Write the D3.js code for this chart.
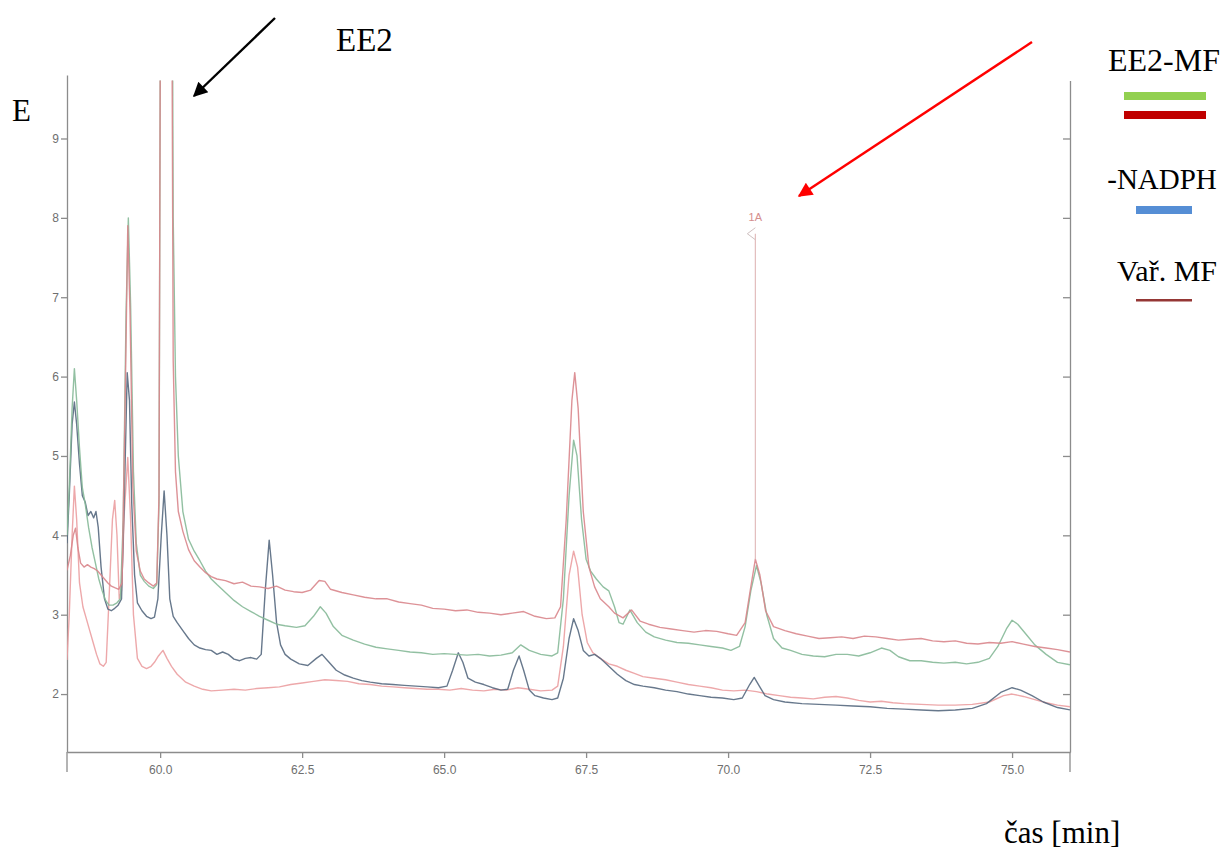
<!DOCTYPE html>
<html>
<head>
<meta charset="utf-8">
<script src="https://cdn.jsdelivr.net/npm/d3@7"></script>
<style>
    body { margin: 0; background: #fff; }
    .serif { font-family: "Liberation Serif", "Times New Roman", serif; fill: #000; }
    .axis text { font-family: "Liberation Sans", Arial, sans-serif; font-size: 12px; fill: #6f6f6f; }
    .axis path, .axis line { stroke: #8c8c8c; stroke-width: 1.3; }
    .trace { fill: none; stroke-width: 1.4; stroke-linejoin: round; }
</style>
</head>
<body>
<div id="chart"></div>
<script>
//Datos [tiempo min, absorbancia]
const timeTicks = [60.0, 62.5, 65.0, 67.5, 70.0, 72.5, 75.0];
const valueTicks = [2, 3, 4, 5, 6, 7, 8, 9];

const ee2mfRed = [[58.36,3.56],[58.42,3.75],[58.47,4.0],[58.51,4.09],[58.55,3.85],[58.6,3.65],[58.66,3.6],[58.72,3.63],[58.78,3.6],[58.84,3.58],[58.9,3.55],[58.96,3.5],[59.02,3.45],[59.08,3.4],[59.14,3.36],[59.2,3.34],[59.27,3.32],[59.33,3.4],[59.38,5.5],[59.43,7.9],[59.47,6.8],[59.52,4.6],[59.58,3.8],[59.65,3.55],[59.72,3.45],[59.8,3.4],[59.88,3.36],[59.94,3.4],[59.98,4.5],[60.01,12],[60.05,40],[60.17,40],[60.2,12],[60.23,6.2],[60.27,4.8],[60.32,4.3],[60.4,4.05],[60.5,3.82],[60.6,3.68],[60.7,3.6],[60.8,3.53],[60.9,3.48],[61.0,3.45],[61.15,3.43],[61.3,3.39],[61.45,3.41],[61.6,3.36],[61.75,3.35],[61.9,3.33],[62.05,3.36],[62.2,3.31],[62.35,3.29],[62.5,3.28],[62.65,3.31],[62.8,3.43],[62.9,3.42],[63.0,3.32],[63.2,3.28],[63.4,3.25],[63.6,3.22],[63.8,3.2],[64.0,3.2],[64.2,3.16],[64.4,3.14],[64.6,3.12],[64.8,3.08],[65.0,3.07],[65.2,3.05],[65.4,3.06],[65.6,3.03],[65.8,3.02],[66.0,3.0],[66.2,3.02],[66.4,3.04],[66.6,2.98],[66.8,2.95],[66.95,2.96],[67.05,3.1],[67.15,4.2],[67.25,5.7],[67.3,6.05],[67.36,5.6],[67.45,4.3],[67.55,3.6],[67.65,3.35],[67.75,3.2],[67.9,3.1],[68.0,3.02],[68.15,2.96],[68.3,3.06],[68.45,2.92],[68.6,2.88],[68.8,2.84],[69.0,2.82],[69.2,2.8],[69.4,2.78],[69.6,2.8],[69.8,2.79],[70.0,2.76],[70.15,2.74],[70.3,2.9],[70.4,3.35],[70.48,3.7],[70.56,3.5],[70.66,3.05],[70.8,2.85],[71.0,2.8],[71.2,2.76],[71.4,2.73],[71.6,2.7],[71.8,2.71],[72.0,2.72],[72.2,2.7],[72.4,2.73],[72.6,2.72],[72.8,2.7],[73.0,2.68],[73.2,2.69],[73.4,2.7],[73.6,2.67],[73.8,2.66],[74.0,2.67],[74.2,2.64],[74.4,2.63],[74.6,2.65],[74.8,2.64],[75.0,2.66],[75.2,2.63],[75.4,2.6],[75.6,2.58],[75.8,2.56],[76.02,2.53]];

const ee2mfGreen = [[58.36,4.0],[58.4,4.6],[58.45,5.6],[58.49,6.1],[58.53,5.7],[58.58,5.1],[58.63,4.6],[58.68,4.4],[58.74,4.1],[58.8,3.85],[58.86,3.65],[58.92,3.45],[58.98,3.3],[59.04,3.18],[59.1,3.12],[59.17,3.12],[59.24,3.15],[59.3,3.2],[59.35,4.2],[59.4,6.8],[59.44,8.0],[59.48,6.9],[59.53,4.8],[59.58,3.9],[59.65,3.5],[59.72,3.42],[59.8,3.36],[59.88,3.33],[59.94,3.38],[59.98,4.4],[60.01,12],[60.05,40],[60.17,40],[60.2,14],[60.23,8],[60.27,6.0],[60.32,5.0],[60.4,4.3],[60.5,3.95],[60.6,3.8],[60.7,3.68],[60.8,3.55],[60.9,3.45],[61.0,3.38],[61.15,3.28],[61.3,3.18],[61.45,3.1],[61.6,3.04],[61.75,2.98],[61.9,2.93],[62.05,2.88],[62.2,2.86],[62.4,2.84],[62.55,2.86],[62.7,2.98],[62.82,3.1],[62.92,3.02],[63.05,2.85],[63.2,2.74],[63.4,2.68],[63.6,2.63],[63.8,2.59],[64.0,2.57],[64.2,2.55],[64.4,2.53],[64.6,2.52],[64.8,2.5],[65.0,2.51],[65.2,2.5],[65.4,2.49],[65.6,2.5],[65.8,2.48],[66.0,2.49],[66.2,2.52],[66.35,2.62],[66.5,2.55],[66.7,2.5],[66.9,2.48],[67.0,2.52],[67.1,3.2],[67.2,4.5],[67.28,5.2],[67.34,5.0],[67.42,4.2],[67.5,3.7],[67.58,3.55],[67.68,3.45],[67.8,3.35],[67.9,3.3],[68.0,3.1],[68.08,2.9],[68.15,2.88],[68.27,3.06],[68.4,2.9],[68.55,2.78],[68.7,2.72],[68.9,2.68],[69.1,2.65],[69.3,2.64],[69.5,2.62],[69.7,2.6],[69.9,2.58],[70.05,2.55],[70.2,2.6],[70.3,2.85],[70.4,3.3],[70.5,3.62],[70.58,3.4],[70.68,3.0],[70.8,2.7],[70.95,2.58],[71.1,2.55],[71.3,2.5],[71.5,2.48],[71.7,2.47],[71.9,2.5],[72.1,2.5],[72.3,2.48],[72.5,2.52],[72.7,2.58],[72.85,2.55],[73.0,2.47],[73.2,2.42],[73.4,2.42],[73.6,2.4],[73.8,2.39],[74.0,2.4],[74.2,2.38],[74.4,2.4],[74.6,2.45],[74.75,2.6],[74.9,2.82],[75.0,2.93],[75.1,2.88],[75.25,2.75],[75.4,2.62],[75.6,2.5],[75.8,2.4],[76.02,2.37]];

const minusNadph = [[58.36,3.9],[58.4,4.5],[58.45,5.4],[58.49,5.68],[58.53,5.4],[58.58,4.9],[58.63,4.5],[58.68,4.42],[58.73,4.25],[58.78,4.3],[58.83,4.22],[58.87,4.3],[58.91,4.1],[58.96,3.6],[59.02,3.2],[59.08,3.07],[59.14,3.05],[59.2,3.08],[59.26,3.12],[59.32,3.2],[59.37,4.5],[59.42,6.05],[59.46,5.7],[59.5,4.4],[59.55,3.5],[59.6,3.15],[59.68,3.05],[59.76,2.98],[59.84,2.95],[59.9,2.97],[59.96,3.2],[60.02,4.0],[60.07,4.56],[60.12,4.0],[60.17,3.2],[60.23,2.98],[60.3,2.9],[60.4,2.8],[60.5,2.7],[60.6,2.62],[60.7,2.58],[60.8,2.56],[60.9,2.55],[61.0,2.5],[61.1,2.53],[61.2,2.5],[61.3,2.44],[61.4,2.42],[61.5,2.45],[61.6,2.46],[61.7,2.44],[61.78,2.5],[61.85,3.3],[61.92,3.94],[61.98,3.5],[62.05,2.9],[62.12,2.62],[62.2,2.5],[62.3,2.44],[62.45,2.38],[62.6,2.36],[62.75,2.45],[62.85,2.5],[62.95,2.42],[63.1,2.3],[63.25,2.24],[63.4,2.2],[63.55,2.17],[63.7,2.15],[63.9,2.13],[64.1,2.12],[64.3,2.11],[64.5,2.1],[64.7,2.09],[64.9,2.08],[65.05,2.1],[65.15,2.3],[65.25,2.52],[65.33,2.4],[65.42,2.2],[65.55,2.15],[65.7,2.12],[65.85,2.08],[66.0,2.05],[66.12,2.06],[66.22,2.3],[66.32,2.48],[66.4,2.3],[66.5,2.05],[66.6,1.98],[66.75,1.95],[66.9,1.93],[67.0,1.95],[67.1,2.2],[67.2,2.7],[67.28,2.95],[67.36,2.8],[67.45,2.55],[67.55,2.48],[67.65,2.5],[67.75,2.45],[67.9,2.35],[68.05,2.25],[68.2,2.17],[68.35,2.12],[68.5,2.1],[68.7,2.08],[68.9,2.05],[69.1,2.03],[69.3,2.0],[69.5,1.98],[69.7,1.96],[69.9,1.95],[70.1,1.93],[70.25,1.95],[70.38,2.12],[70.46,2.21],[70.55,2.1],[70.65,1.98],[70.8,1.93],[71.0,1.9],[71.3,1.88],[71.6,1.87],[71.9,1.86],[72.2,1.85],[72.5,1.84],[72.8,1.82],[73.1,1.81],[73.4,1.8],[73.7,1.79],[74.0,1.8],[74.3,1.82],[74.55,1.88],[74.8,2.02],[75.0,2.08],[75.15,2.05],[75.35,1.98],[75.55,1.9],[75.8,1.83],[76.02,1.8]];

const varMf = [[58.36,2.43],[58.4,3.0],[58.45,4.0],[58.49,4.62],[58.53,4.2],[58.58,3.4],[58.64,3.1],[58.7,2.95],[58.76,2.8],[58.82,2.65],[58.88,2.5],[58.94,2.38],[59.0,2.35],[59.05,2.4],[59.1,3.2],[59.16,4.2],[59.2,4.44],[59.24,4.0],[59.28,3.2],[59.32,3.3],[59.37,4.3],[59.43,4.98],[59.48,4.2],[59.53,3.0],[59.6,2.45],[59.68,2.35],[59.76,2.32],[59.84,2.35],[59.9,2.4],[59.97,2.48],[60.05,2.55],[60.12,2.45],[60.2,2.35],[60.3,2.25],[60.45,2.15],[60.6,2.1],[60.75,2.06],[60.9,2.04],[61.1,2.05],[61.3,2.06],[61.5,2.05],[61.7,2.07],[61.9,2.08],[62.1,2.09],[62.3,2.12],[62.5,2.14],[62.7,2.16],[62.9,2.18],[63.1,2.17],[63.3,2.16],[63.5,2.13],[63.7,2.12],[63.9,2.1],[64.1,2.09],[64.3,2.08],[64.5,2.07],[64.7,2.06],[64.9,2.06],[65.1,2.05],[65.3,2.07],[65.5,2.05],[65.7,2.04],[65.9,2.06],[66.1,2.05],[66.3,2.08],[66.5,2.06],[66.7,2.04],[66.9,2.05],[67.0,2.1],[67.1,2.6],[67.2,3.5],[67.28,3.8],[67.35,3.6],[67.43,3.0],[67.52,2.65],[67.62,2.52],[67.75,2.45],[67.9,2.38],[68.05,2.35],[68.2,2.3],[68.35,2.26],[68.5,2.22],[68.7,2.2],[68.9,2.18],[69.1,2.15],[69.3,2.12],[69.5,2.1],[69.7,2.08],[69.9,2.05],[70.1,2.04],[70.3,2.05],[70.5,2.03],[70.7,2.0],[70.9,1.98],[71.1,1.96],[71.3,1.95],[71.5,1.94],[71.7,1.96],[71.9,1.97],[72.1,1.95],[72.3,1.92],[72.5,1.9],[72.7,1.91],[72.9,1.89],[73.1,1.88],[73.4,1.87],[73.7,1.86],[74.0,1.86],[74.3,1.87],[74.6,1.9],[74.85,1.98],[75.0,2.0],[75.2,1.97],[75.4,1.93],[75.6,1.89],[75.8,1.86],[76.02,1.84]];

//Marcador 1A
const marker1A = { time: 70.48, top: 7.8, bottom: 3.7, label: '1A' };

//Leyenda
const legendLabels = ['EE2-MF', '-NADPH', 'Vař. MF'];

//Series y colores
let series = [
    { data: varMf, color: '#eb9fa1' },
    { data: minusNadph, color: '#56697f' },
    { data: ee2mfGreen, color: '#86b998' },
    { data: ee2mfRed, color: '#d9868c' }
];

let W = 1222, H = 852;
let margin = { top: 75, right: 152, bottom: 100, left: 67 },
    width = W - margin.left - margin.right,
    height = H - margin.top - margin.bottom;

let svg = d3.select('#chart')
    .append('svg')
        .attr('width', W)
        .attr('height', H);

let x = d3.scaleLinear()
    .domain([58.36, 76.02])
    .range([margin.left, margin.left + width]);

let y = d3.scaleLinear()
    .domain([1.27, 9.8])
    .range([margin.top + height, margin.top]);

//Recorte del área del gráfico
svg.append('clipPath')
    .attr('id', 'plot-clip')
    .append('rect')
        .attr('x', x.range()[0])
        .attr('y', y(9.73))
        .attr('width', width)
        .attr('height', y(1.27) - y(9.73));

//Ejes
svg.append('g')
    .attr('class', 'axis')
    .attr('transform', 'translate(' + x.range()[0] + ',0)')
    .call(d3.axisLeft(y).tickValues(valueTicks).tickSize(6).tickSizeOuter(0).tickFormat(d3.format('d')))
    .call(function(g) { g.selectAll('.tick text').attr('x', -8); });

svg.append('g')
    .attr('class', 'axis')
    .attr('transform', 'translate(' + x.range()[1] + ',0)')
    .call(d3.axisRight(y.copy().domain([1.27, 9.73]).range([y(1.27), y(9.73)])).tickValues(valueTicks).tickSizeInner(-7).tickSizeOuter(0).tickFormat(''));

svg.append('g')
    .attr('class', 'axis')
    .attr('transform', 'translate(0,' + y.range()[0] + ')')
    .call(d3.axisBottom(x).tickValues(timeTicks).tickSize(6).tickSizeOuter(0).tickFormat(d3.format('.1f')))
    .call(function(g) { g.selectAll('.tick text').attr('y', 13); });

//Prolongación de los ejes verticales bajo el eje x
[x.range()[0], x.range()[1]].forEach(function(px) {
    svg.append('line')
        .attr('x1', px).attr('x2', px)
        .attr('y1', y.range()[0]).attr('y2', y.range()[0] + 20)
        .attr('stroke', '#8c8c8c')
        .attr('stroke-width', 1.3);
});

//Trazas
let line = d3.line()
    .x(function(d) { return x(d[0]); })
    .y(function(d) { return y(d[1]); });

svg.append('g')
    .attr('clip-path', 'url(#plot-clip)')
    .selectAll('path')
    .data(series)
    .enter()
    .append('path')
        .attr('class', 'trace')
        .attr('stroke', function(d) { return d.color; })
        .attr('stroke-opacity', 0.9)
        .attr('d', function(d) { return line(d.data); });

//Marcador 1A
let mx = x(marker1A.time);
svg.append('line')
    .attr('x1', mx).attr('x2', mx)
    .attr('y1', y(marker1A.top)).attr('y2', y(marker1A.bottom))
    .attr('stroke', '#e2bcbc')
    .attr('stroke-width', 1.2);

svg.append('path')
    .attr('d', 'M' + mx + ',' + (y(marker1A.top) - 6) + 'L' + (mx - 8) + ',' + y(marker1A.top) + 'L' + mx + ',' + (y(marker1A.top) + 6))
    .attr('fill', 'none')
    .attr('stroke', '#cfc0c0')
    .attr('stroke-width', 1);

svg.append('text')
    .attr('x', mx)
    .attr('y', y(marker1A.top) - 13)
    .attr('text-anchor', 'middle')
    .style('font-family', 'Liberation Sans, Arial, sans-serif')
    .style('font-size', '11px')
    .style('fill', '#d48e8e')
    .text(marker1A.label);

//Flechas
let defs = svg.append('defs');
[['arrow-black', '#000'], ['arrow-red', '#ff0000']].forEach(function(m) {
    defs.append('marker')
        .attr('id', m[0])
        .attr('viewBox', '0 0 10 10')
        .attr('refX', 9).attr('refY', 5)
        .attr('markerWidth', 7).attr('markerHeight', 6)
        .attr('markerUnits', 'strokeWidth')
        .attr('orient', 'auto')
        .append('path')
            .attr('d', 'M0,0L10,5L0,10Z')
            .attr('fill', m[1]);
});

svg.append('line')
    .attr('x1', 275).attr('y1', 18).attr('x2', 194).attr('y2', 96)
    .attr('stroke', '#000').attr('stroke-width', 2.4)
    .attr('marker-end', 'url(#arrow-black)');

svg.append('line')
    .attr('x1', 1032).attr('y1', 42).attr('x2', 799).attr('y2', 196)
    .attr('stroke', '#ff0000').attr('stroke-width', 2.4)
    .attr('marker-end', 'url(#arrow-red)');

//Textos
svg.append('text').attr('class', 'serif').attr('x', 12).attr('y', 121).style('font-size', '31px').text('E');
svg.append('text').attr('class', 'serif').attr('x', 336).attr('y', 51).style('font-size', '33px').text('EE2');
svg.append('text').attr('class', 'serif').attr('x', 1004).attr('y', 843).style('font-size', '31px').text('čas [min]');

//Leyenda
svg.append('text').attr('class', 'serif').attr('x', 1164).attr('y', 71).attr('text-anchor', 'middle').style('font-size', '32px').text(legendLabels[0]);
svg.append('rect').attr('x', 1124).attr('y', 92).attr('width', 82).attr('height', 8).attr('fill', '#92d050');
svg.append('rect').attr('x', 1124).attr('y', 111).attr('width', 82).attr('height', 8).attr('fill', '#c00000');

svg.append('text').attr('class', 'serif').attr('x', 1162).attr('y', 189).attr('text-anchor', 'middle').style('font-size', '29px').text(legendLabels[1]);
svg.append('rect').attr('x', 1136).attr('y', 206).attr('width', 56).attr('height', 8).attr('fill', '#558ed5');

svg.append('text').attr('class', 'serif').attr('x', 1167).attr('y', 281).attr('text-anchor', 'middle').style('font-size', '30px').text(legendLabels[2]);
svg.append('rect').attr('x', 1136).attr('y', 299).attr('width', 56).attr('height', 2.5).attr('fill', '#953735');
</script>
</body>
</html>
